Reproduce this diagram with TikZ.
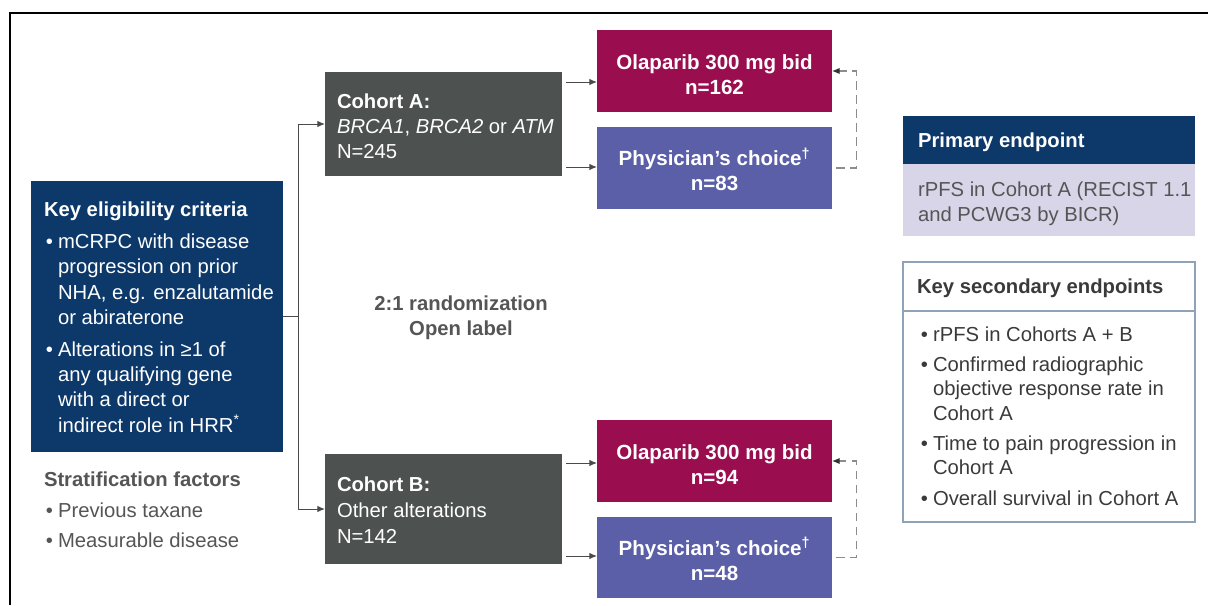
\documentclass[tikz,border=0pt]{standalone}
\usepackage{fontspec}
\setmainfont{Liberation Sans}
\usetikzlibrary{arrows.meta}

\definecolor{navy}{HTML}{0C386A}
\definecolor{cohortgrey}{HTML}{4D5250}
\definecolor{olared}{HTML}{9A0E50}
\definecolor{physblue}{HTML}{5B5FA7}
\definecolor{lavender}{HTML}{D8D5E9}
\definecolor{textgrey}{HTML}{555555}
\definecolor{darktext}{HTML}{3A3A3A}
\definecolor{secborder}{HTML}{8EA2B8}
\definecolor{linegrey}{HTML}{4A4A4A}
\definecolor{dashgrey}{HTML}{8C8C8C}

% bullet and hanging indent for list lines
\newcommand\bulitem{\hspace*{1.4pt}\makebox[8.6pt][l]{\textbullet}}
\newcommand\contitem{\hspace*{10pt}}

\begin{document}
\begin{tikzpicture}[x=0.025cm, y=-0.025cm,
  sz/.style 2 args={minimum width=#1*0.025cm, minimum height=#2*0.025cm},
  box/.style={rectangle, inner sep=0pt, outer sep=0pt, anchor=north west},
  body/.style={font=\fontsize{14.4}{17.7}\selectfont, inner sep=0pt, outer sep=0pt,
    anchor=north west, align=left, yshift=-2.9pt},
  trt/.style={box, sz={235}{82}},
  trttxt/.style={text=white, align=center, inner sep=0pt,
    font=\fontsize{14.6}{17.7}\selectfont\bfseries},
  tip/.style={-{Latex[length=5.5pt,width=4.6pt]}},
  conn/.style={draw=linegrey, line width=0.7pt},
  arr/.style={conn, tip},
  fb/.style={draw=dashgrey, line width=0.8pt, dash pattern=on 6pt off 4pt,
    -{Latex[length=5.5pt,width=4.6pt,color=black!80]}}
]
\useasboundingbox (0,0) rectangle (1208,605);

% outer frame (top and left edges)
\draw[line width=1.5pt] (10,605) -- (10,13) -- (1208,13);

% eligibility
\node[box, fill=navy, sz={252}{271}] (elig) at (31,181) {};
\node[body, text=white, font=\fontsize{14.4}{18}\selectfont] (eligtxt) at (44,197.5) {%
  \textbf{Key eligibility criteria}\\[5pt]
  \bulitem mCRPC with disease\\
  \contitem progression on prior\\
  \contitem NHA, e.g. enzalutamide\\
  \contitem or abiraterone\\[4.5pt]
  \bulitem Alterations in ≥1 of\\
  \contitem any qualifying gene\\
  \contitem with a direct or\\
  \contitem indirect role in HRR\textsuperscript{*}};

\node[body, text=textgrey] (strat) at (44,467.5) {%
  \textbf{Stratification factors}\\[4.3pt]
  \bulitem Previous taxane\\[4pt]
  \bulitem Measurable disease};

% cohorts
\node[box, fill=cohortgrey, sz={237}{104}] (cohA) at (325,72) {};
\node[body, text=white, font=\fontsize{14.4}{18}\selectfont] (cohAtxt) at (337,89.5) {%
  \textbf{Cohort A:}\\
  \textit{BRCA1}, \textit{BRCA2} or \textit{ATM}\\
  N=245};
\node[box, fill=cohortgrey, sz={237}{110}] (cohB) at (325,454) {};
\node[body, text=white, font=\fontsize{14.4}{18.6}\selectfont] (cohBtxt) at (337,472.5) {%
  \textbf{Cohort B:}\\
  Other alterations\\
  N=142};

\node[body, anchor=north, align=center, text=textgrey,
  font=\fontsize{14.4}{17.7}\selectfont\bfseries] (rand) at (461,291.5)
  {2:1 randomization\\Open label};

% treatment arms
\node[trt, fill=olared] (oA) at (597,30) {};
\node[trt, fill=physblue] (pA) at (597,127) {};
\node[trt, fill=olared] (oB) at (597,420) {};
\node[trt, fill=physblue, sz={235}{81}] (pB) at (597,517) {};
\node[trttxt] (oAtxt) at ([yshift=-2.3pt]oA.center) {Olaparib 300 mg bid\\n=162};
\node[trttxt] (pAtxt) at ([yshift=-1pt]pA.center) {Physician’s choice\textsuperscript{†}\\n=83};
\node[trttxt] (oBtxt) at ([yshift=-2.3pt]oB.center) {Olaparib 300 mg bid\\n=94};
\node[trttxt] (pBtxt) at ([yshift=-1pt]pB.center) {Physician’s choice\textsuperscript{†}\\n=48};

% endpoints
\node[box, fill=navy, sz={292}{48}] (prihead) at (903,116) {};
\node[box, fill=lavender, sz={292}{72}] (pribody) at (903,164) {};
\node[body, text=white, yshift=1.4pt] (prittl) at (918,130.5) {\textbf{Primary endpoint}};
\node[body, text=textgrey] (pritxt) at (918,177.5) {%
  rPFS in Cohort A (RECIST 1.1\\and PCWG3 by BICR)};

\node[box, draw=secborder, line width=0.8pt, sz={292}{260}] (sec) at (903,262) {};
\draw[secborder, line width=0.8pt] (sec.north west) ++(0,49) -- ++(292,0);
\node[body, text=darktext, yshift=1.4pt] (secttl) at (917,276.5) {\textbf{Key secondary endpoints}};
\node[body, text=darktext, font=\fontsize{14.4}{17.2}\selectfont] (secitems) at (919,322.5) {%
  \bulitem rPFS in Cohorts A + B\\[4.5pt]
  \bulitem Confirmed radiographic\\
  \contitem objective response rate in\\
  \contitem Cohort A\\[4.5pt]
  \bulitem Time to pain progression in\\
  \contitem Cohort A\\[4.5pt]
  \bulitem Overall survival in Cohort A};

% randomisation split into the two cohorts
\path (elig.east) ++(15,0) coordinate (split);
\draw[conn] (elig.east) -- (split);
\draw[arr] (split) |- (cohA.west);
\draw[arr] (split) |- (cohB.west);

% cohorts to treatment arms
\path (cohA.north east) ++(4,10) coordinate (a1);
\path (cohA.south east) ++(4,-9) coordinate (a2);
\path (cohB.north east) ++(4,9) coordinate (b1);
\path (cohB.south east) ++(4,-8) coordinate (b2);
\draw[arr] (a1) -- (a1 -| oA.west);
\draw[arr] (a2) -- (a2 -| pA.west);
\draw[arr] (b1) -- (b1 -| oB.west);
\draw[arr] (b2) -- (b2 -| pB.west);

% crossover from physician's choice to olaparib
\draw[fb] ([xshift=3pt]pA.east) -- ++(20,0) |- (oA.east);
\draw[fb] ([xshift=3pt]pB.east) -- ++(20,0) |- (oB.east);
\end{tikzpicture}
\end{document}
